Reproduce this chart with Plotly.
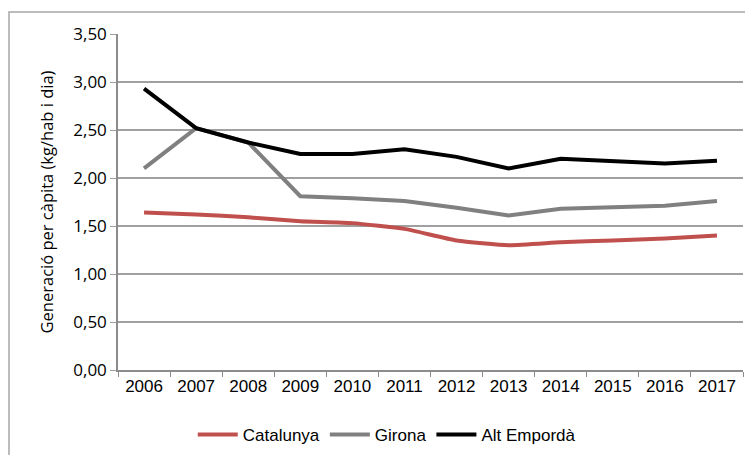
import plotly.graph_objects as go

years = ["2006", "2007", "2008", "2009", "2010", "2011",
         "2012", "2013", "2014", "2015", "2016", "2017"]
catalunya = [1.64, 1.62, 1.59, 1.55, 1.53, 1.47, 1.35, 1.30, 1.33, 1.35, 1.37, 1.40]
girona = [2.10, 2.52, 2.37, 1.81, 1.79, 1.76, 1.69, 1.61, 1.68, 1.69, 1.71, 1.76]
alt_emporda = [2.93, 2.52, 2.37, 2.25, 2.25, 2.30, 2.22, 2.10, 2.20, 2.18, 2.15, 2.18]

fig = go.Figure()
fig.add_trace(go.Scatter(x=years, y=catalunya, name="Catalunya", mode="lines",
                         line=dict(color="#C0504D", width=4, shape="spline", smoothing=0.5)))
fig.add_trace(go.Scatter(x=years, y=girona, name="Girona", mode="lines",
                         line=dict(color="#808080", width=4)))
fig.add_trace(go.Scatter(x=years, y=alt_emporda, name="Alt Empordà", mode="lines",
                         line=dict(color="#000000", width=4)))

# page body has an 8px margin, so the figure is sized 745x447 and everything is offset
# outer chart border (runs off the right / bottom edge like the source image)
fig.add_shape(type="rect", xref="paper", yref="paper",
              x0=(1 - 110) / 625, x1=1.03, y0=-0.3, y1=1 + 22 / 336,
              line=dict(color="#A6A6A6", width=1.5), layer="below")

fig.update_layout(
    width=745, height=447,
    margin=dict(l=110, r=10, t=26, b=85, autoexpand=False),
    paper_bgcolor="white", plot_bgcolor="white",
    separators=",.",
    showlegend=True,
    legend=dict(orientation="h", x=0.43, xanchor="center", y=-0.193, yanchor="middle",
                font=dict(family="Liberation Sans", size=17, color="#000"),
                itemwidth=40, tracegroupgap=0),
    xaxis=dict(type="category", range=[-0.5, 11.5], showgrid=False, showline=True,
               linecolor="#8C8C8C", linewidth=1.5, ticks="outside", tickson="boundaries",
               ticklen=5, tickcolor="#8C8C8C", automargin=False,
               tickfont=dict(family="Liberation Sans", size=17, color="#000")),
    yaxis=dict(range=[0, 3.5], dtick=0.5, tickformat=".2f", showgrid=True,
               gridcolor="#A0A0A0", gridwidth=1.5, showline=True, linecolor="#8C8C8C",
               linewidth=1.5, ticks="outside", ticklen=6, tickcolor="#A0A0A0",
               zeroline=False, automargin=False,
               tickfont=dict(family="Open Sans", size=17, color="#000"),
               title=dict(text="Generació per càpita (kg/hab i dia)", standoff=16,
                          font=dict(family="Open Sans", size=16.5, color="#000"))),
)

fig.write_html("out.html")
